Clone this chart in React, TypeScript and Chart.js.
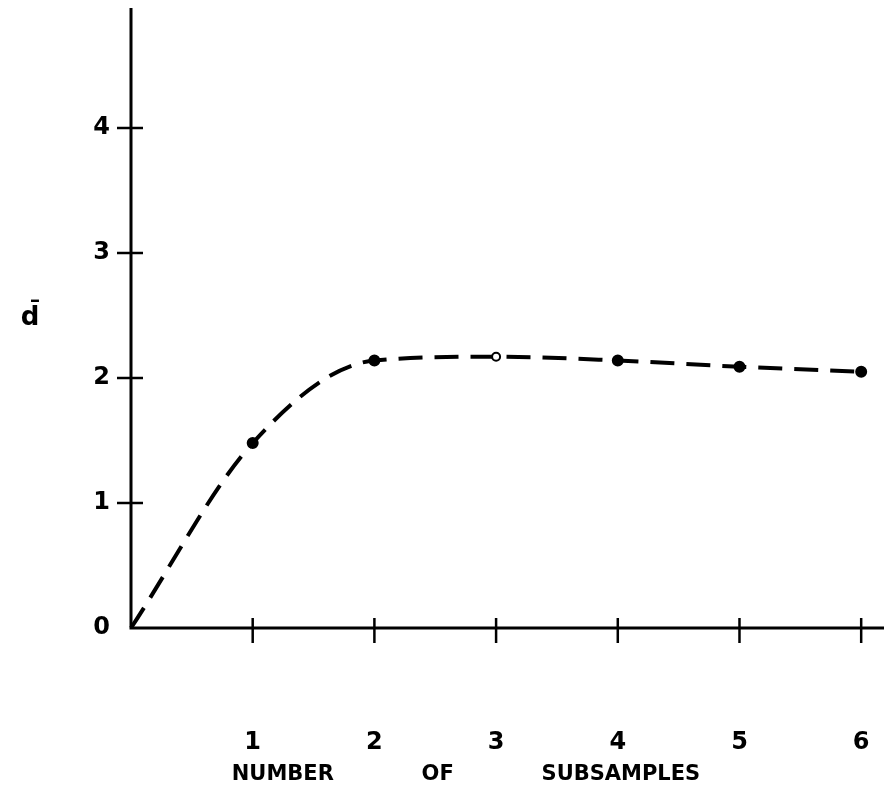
import React, { useEffect, useRef } from "react";
import { Chart, registerables } from "chart.js";

Chart.register(...registerables);

const subsamples = [0, 1, 2, 3, 4, 5, 6];
const dBar = [0, 1.48, 2.14, 2.17, 2.14, 2.09, 2.05];
const pointRadius = [0, 5, 5, 4, 5, 5, 5];
const pointFill = ["#000", "#000", "#000", "#fff", "#000", "#000", "#000"];
const xTickLabels = ["1", "2", "3", "4", "5", "6"];
const yTickLabels = ["0", "1", "2", "3", "4"];
const xTitle = "NUMBER            OF            SUBSAMPLES";
const yTitle = "d\u0304";

const FONT = "'DejaVu Sans', sans-serif";

const axesPlugin = {
  id: "axesPlugin",
  afterDatasetsDraw(chart: any) {
    const { ctx, chartArea, scales } = chart;
    const xs = scales.x;
    const ys = scales.y;
    const x0 = xs.getPixelForValue(0);
    const y0 = ys.getPixelForValue(0);
    ctx.save();
    ctx.strokeStyle = "#000";
    ctx.lineCap = "butt";
    ctx.lineWidth = 3;
    // axes
    ctx.beginPath();
    ctx.moveTo(x0, chartArea.top);
    ctx.lineTo(x0, y0);
    ctx.lineTo(chart.width, y0);
    ctx.stroke();
    // crossing tick marks
    ctx.lineWidth = 2.5;
    xTickLabels.forEach((l) => {
      const px = xs.getPixelForValue(Number(l));
      ctx.beginPath();
      ctx.moveTo(px, y0 - 10);
      ctx.lineTo(px, y0 + 15);
      ctx.stroke();
    });
    yTickLabels.slice(1).forEach((l) => {
      const py = ys.getPixelForValue(Number(l));
      ctx.beginPath();
      ctx.moveTo(x0 - 14, py);
      ctx.lineTo(x0 + 12, py);
      ctx.stroke();
    });
    // tick labels
    ctx.fillStyle = "#000";
    ctx.font = `bold 24px ${FONT}`;
    ctx.textBaseline = "middle";
    ctx.textAlign = "center";
    xTickLabels.forEach((l) => {
      ctx.fillText(l, xs.getPixelForValue(Number(l)), y0 + 115);
    });
    ctx.textAlign = "right";
    yTickLabels.forEach((l) => {
      ctx.fillText(l, x0 - 21, ys.getPixelForValue(Number(l)));
    });
    // titles
    ctx.textAlign = "center";
    ctx.font = `bold 21px ${FONT}`;
    ctx.fillText(xTitle, 466, 775);
    ctx.font = `bold 26px ${FONT}`;
    ctx.fillText(yTitle, 30, 318);
    ctx.restore();
  },
};

export default function App() {
  const ref = useRef<HTMLCanvasElement>(null);
  useEffect(() => {
    if (!ref.current) return;
    const chart = new Chart(ref.current, {
      type: "line",
      data: {
        datasets: [
          {
            data: subsamples.map((x, i) => ({ x, y: dBar[i] })),
            borderColor: "#000",
            borderWidth: 4,
            borderDash: [24, 12],
            cubicInterpolationMode: "monotone",
            pointRadius: pointRadius,
            pointBackgroundColor: pointFill,
            pointBorderColor: "#000",
            pointBorderWidth: 2,
            fill: false,
            clip: false,
          },
        ],
      },
      options: {
        responsive: false,
        animation: false,
        layout: { padding: { left: 0, right: 0, top: 8, bottom: 0 } },
        plugins: { legend: { display: false }, tooltip: { enabled: false } },
        scales: {
          x: {
            type: "linear",
            min: 0,
            max: 6.13,
            grid: { display: false, drawTicks: false },
            border: { display: false },
            ticks: { display: false, padding: 0 },
            afterFit: (s: any) => {
              s.height = 161;
              s.paddingLeft = 0;
              s.paddingRight = 0;
            },
          },
          y: {
            type: "linear",
            min: 0,
            max: 4.96,
            grid: { display: false, drawTicks: false },
            border: { display: false },
            ticks: { display: false, padding: 0 },
            afterFit: (s: any) => {
              s.width = 131;
              s.paddingTop = 0;
              s.paddingBottom = 0;
            },
          },
        },
      },
      plugins: [axesPlugin],
    } as any);
    return () => chart.destroy();
  }, []);
  return (
    <div style={{ position: "absolute", left: 0, top: 0, width: 884, height: 789, background: "#fff" }}>
      <canvas ref={ref} width={884} height={789} style={{ display: "block" }} />
    </div>
  );
}
